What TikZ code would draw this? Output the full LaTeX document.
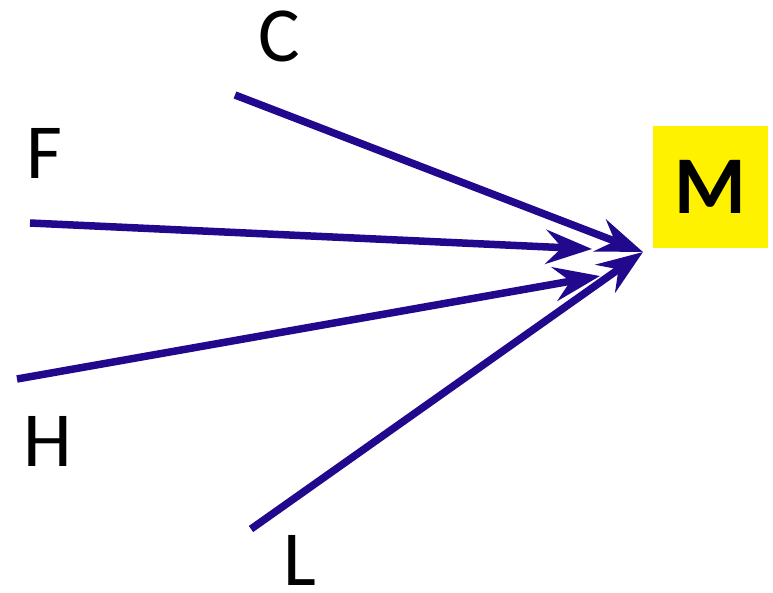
\documentclass[tikz,border=0pt]{standalone}
\usepackage{fontspec}
\setmainfont{Carlito}
\usetikzlibrary{arrows.meta}
\definecolor{arrowblue}{RGB}{34,8,140}
\tikzstyle{arrow} = [line width=7.5pt,arrowblue,-{Stealth[length=46pt,width=34pt,inset=16pt]}]
\tikzstyle{letter} = [font=\fontsize{78}{80}\selectfont,inner sep=0pt]

\begin{document}
\begin{tikzpicture}[x=1pt,y=-1pt]
			\useasboundingbox (0, 0) rectangle (773, 592);
			\node[fill=yellow,minimum width=115pt,minimum height=122pt,font=\fontsize{82}{84}\selectfont\bfseries] (m) at (710.5, 187) {M};
			\node[letter] (c) at (279, 36) {C};
			\node[letter] (f) at (44, 153) {F};
			\node[letter] (h) at (48, 441) {H};
			\node[letter] (l) at (300, 560) {L};
			\coordinate (cs) at (235, 95);
			\coordinate (fs) at (30, 223);
			\coordinate (hs) at (17, 379);
			\coordinate (ls) at (251, 529);
			\coordinate (tip) at (643, 252);
			\coordinate (ftip) at (592, 249);
			\coordinate (htip) at (600, 276);
			\draw[arrow] (cs) -- (tip);
			\draw[arrow] (fs) -- (ftip);
			\draw[arrow] (hs) -- (htip);
			\draw[arrow] (ls) -- (tip);
		\end{tikzpicture}
\end{document}
